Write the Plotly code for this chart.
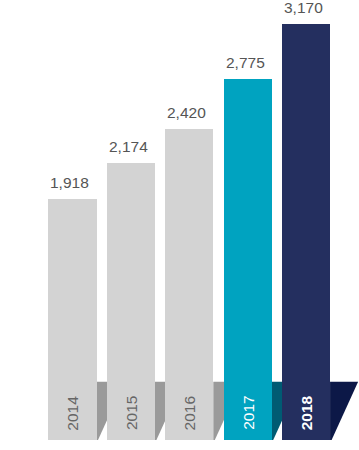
import plotly.graph_objects as go

years = ["2014", "2015", "2016", "2017", "2018"]
values = [1918, 2174, 2420, 2775, 3170]
bar_colors = ["#d3d3d3", "#d3d3d3", "#d3d3d3", "#00a3c0", "#242f5f"]
shadow_colors = ["#9a9a9a", "#9a9a9a", "#9a9a9a", "#005b73", "#0c1847"]
year_colors = ["#666666", "#666666", "#666666", "#ffffff", "#ffffff"]
year_bold = [False, False, False, False, True]

FONT = "Liberation Sans, Arial, Helvetica, sans-serif"
W = 0.822          # bar width in category units
SH_W = 0.48        # shadow top width in category units
SH_H = 0.1325      # shadow height as paper fraction
SH_OFF = 0.026

xs = list(range(len(years)))

fig = go.Figure()
fig.add_trace(go.Bar(
    x=xs, y=values, width=W,
    marker=dict(color=bar_colors, line=dict(width=0)),
    hoverinfo="skip", showlegend=False,
))

shapes = []
annotations = []
for i, (yr, v) in enumerate(zip(years, values)):
    r = i + W / 2
    path = f"M {r},{SH_H} L {r + SH_W},{SH_H} L {r + SH_OFF},0 L {r},0 Z"
    shapes.append(dict(type="path", path=path, xref="x", yref="paper",
                       fillcolor=shadow_colors[i], line=dict(width=0), layer="below"))
    annotations.append(dict(
        x=i - W / 2, y=v, xref="x", yref="y", xanchor="left", yanchor="bottom",
        text=f"{v:,}", showarrow=False, yshift=6,
        font=dict(family=FONT, size=15.5, color="#555555"),
    ))
    annotations.append(dict(
        x=i, y=0.061, xref="x", yref="paper", xanchor="center", yanchor="middle",
        text=f"<b>{yr}</b>" if year_bold[i] else yr, textangle=-90, showarrow=False,
        font=dict(family=FONT, size=15.5, color=year_colors[i]),
    ))

fig.update_layout(
    width=359, height=450,
    margin=dict(l=0, r=0, t=0, b=10),
    paper_bgcolor="white", plot_bgcolor="white",
    xaxis=dict(range=[-1.2414, 4.906], visible=False, fixedrange=True),
    yaxis=dict(range=[190.7, 3344.8], visible=False, fixedrange=True),
    shapes=shapes, annotations=annotations,
    bargap=0,
)

fig.write_html("out.html", config={"displayModeBar": False},
               post_script="document.body.style.margin='0';")
